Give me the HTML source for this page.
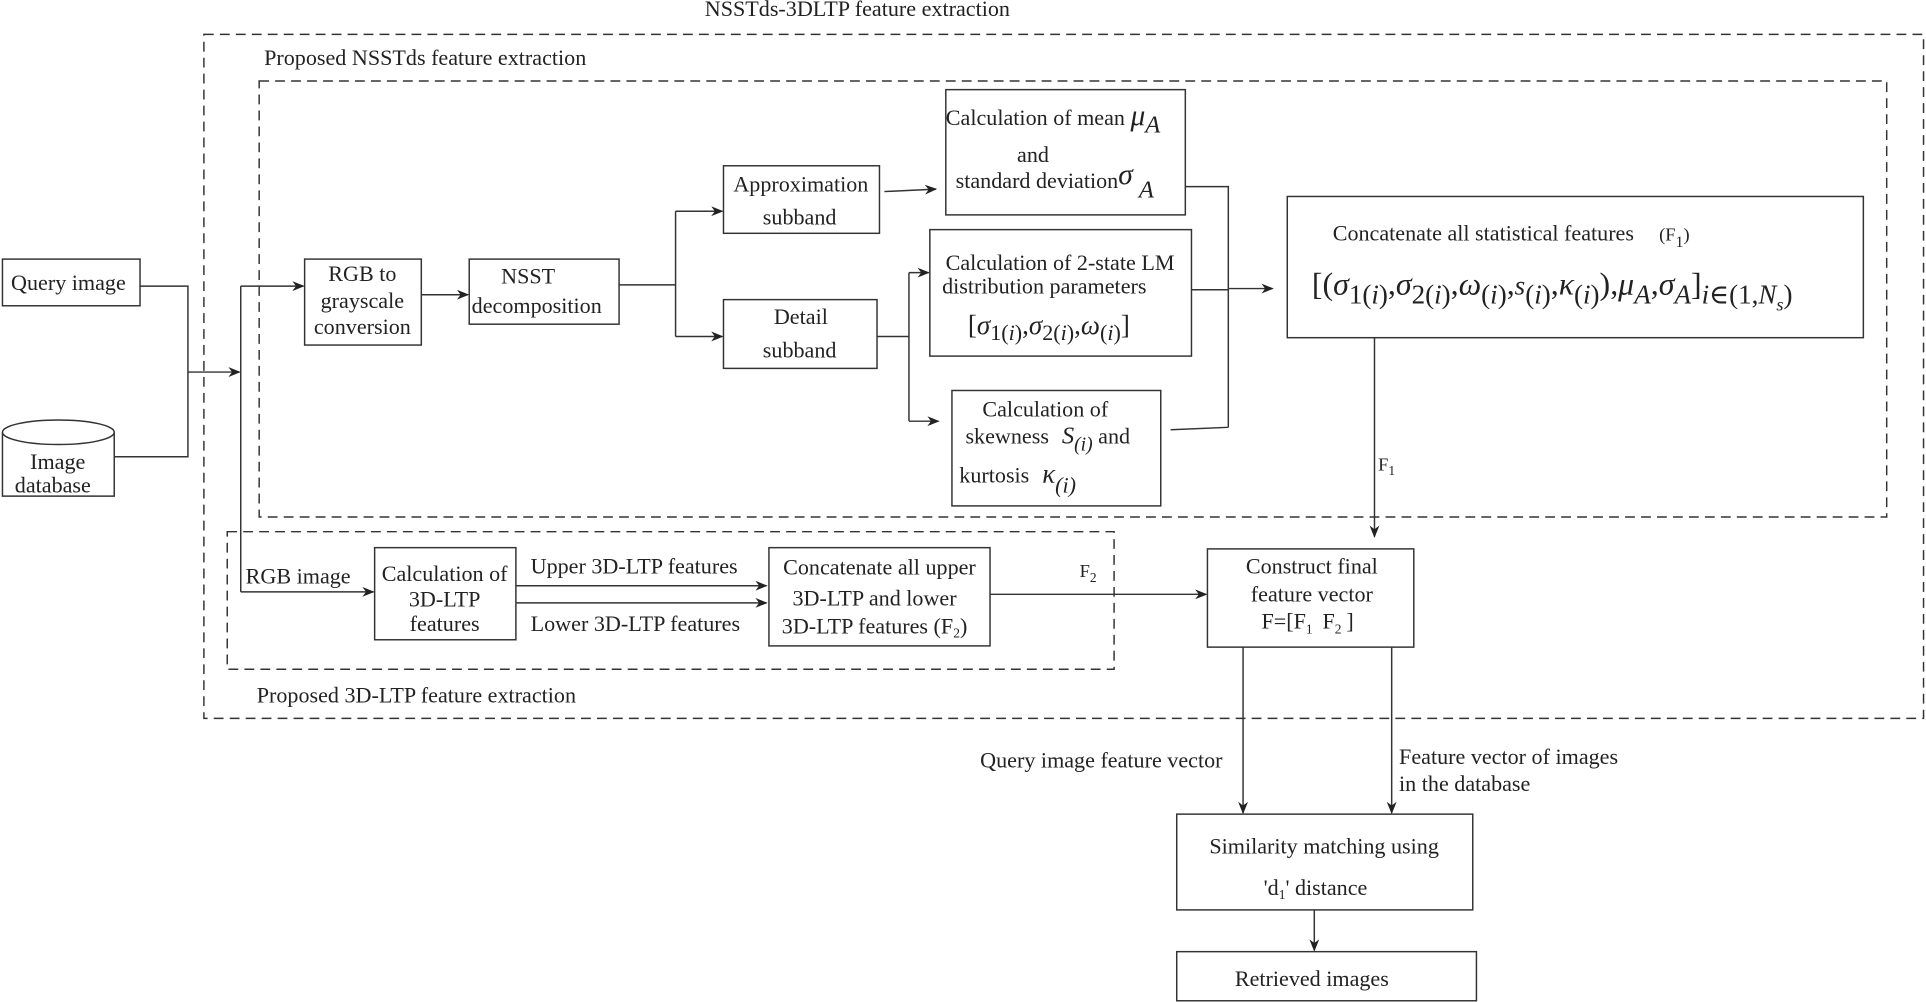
<!DOCTYPE html>
<html><head><meta charset="utf-8"><style>
html,body{margin:0;padding:0;background:#fff}
svg{display:block;font-family:"Liberation Serif","DejaVu Serif",serif;font-size:18px}
text{fill:#222}
.m{font-style:italic}
</style></head><body>
<svg width="1926" height="1002" viewBox="0 0 1568 816" preserveAspectRatio="none" xmlns="http://www.w3.org/2000/svg">
<defs><marker id="a" markerWidth="10" markerHeight="8" refX="9" refY="4" orient="auto" markerUnits="userSpaceOnUse"><path d="M0,0 L10,4 L0,8 L3,4 z" fill="#222"/></marker></defs>
<g fill="none" stroke="#333" stroke-width="1.2">
<rect x="166" y="28" width="1400" height="557" stroke-dasharray="8,5"/>
<rect x="211" y="66" width="1325" height="355" stroke-dasharray="8,5"/>
<rect x="185" y="433" width="722" height="112" stroke-dasharray="8,5"/>
<rect x="2" y="211" width="112" height="38"/>
<path d="M2,352 L2,404 L93,404 L93,352"/>
<ellipse cx="47.5" cy="352" rx="45.5" ry="10" fill="#fff"/>
<rect x="248" y="211" width="95" height="70"/>
<rect x="382" y="211" width="122" height="53"/>
<rect x="589" y="135" width="127" height="55"/>
<rect x="589" y="244" width="125" height="56"/>
<rect x="770" y="73" width="195" height="102"/>
<rect x="757" y="187" width="213" height="103"/>
<rect x="775" y="318" width="170" height="94"/>
<rect x="1048" y="160" width="469" height="115"/>
<rect x="305" y="446" width="115" height="75"/>
<rect x="626" y="446" width="180" height="80"/>
<rect x="983" y="447" width="168" height="80"/>
<rect x="958" y="663" width="241" height="78"/>
<rect x="958" y="775" width="244" height="40"/>
<path d="M114,233 H153 V372 H93"/>
<path d="M153,303 H195" marker-end="url(#a)"/>
<path d="M196,233 V482"/>
<path d="M196,233 H247" marker-end="url(#a)"/>
<path d="M196,482 H304" marker-end="url(#a)"/>
<path d="M343,240 H381" marker-end="url(#a)"/>
<path d="M504,232 H550 M550,172 V274"/>
<path d="M550,172 H588" marker-end="url(#a)"/>
<path d="M550,274 H588" marker-end="url(#a)"/>
<path d="M720,156 L762,154" marker-end="url(#a)"/>
<path d="M965,152 H1000 V348 M970,236 H1000 M953,350 L1000,348"/>
<path d="M1000,235 H1036" marker-end="url(#a)"/>
<path d="M714,274 H740 M740,222 V343"/>
<path d="M740,222 H756" marker-end="url(#a)"/>
<path d="M740,343 H764" marker-end="url(#a)"/>
<path d="M1119,275 V437" marker-end="url(#a)"/>
<path d="M420,477 H624" marker-end="url(#a)"/>
<path d="M420,491 H624" marker-end="url(#a)"/>
<path d="M806,484 H982" marker-end="url(#a)"/>
<path d="M1012,527 V662" marker-end="url(#a)"/>
<path d="M1133,527 V662" marker-end="url(#a)"/>
<path d="M1070,741 V774" marker-end="url(#a)"/>
</g>
<text x="698" y="13" text-anchor="middle">NSSTds-3DLTP feature extraction</text>
<text x="215" y="53">Proposed NSSTds feature extraction</text>
<text x="209" y="572">Proposed 3D-LTP feature extraction</text>
<text x="9" y="236">Query image</text>
<text x="47" y="382" text-anchor="middle">Image</text>
<text x="43" y="401" text-anchor="middle">database</text>
<text x="295" y="229" text-anchor="middle">RGB to</text>
<text x="295" y="251" text-anchor="middle">grayscale</text>
<text x="295" y="272" text-anchor="middle">conversion</text>
<text x="408" y="231">NSST</text>
<text x="384" y="255">decomposition</text>
<text x="652" y="156" text-anchor="middle">Approximation</text>
<text x="651" y="183" text-anchor="middle">subband</text>
<text x="652" y="264" text-anchor="middle">Detail</text>
<text x="651" y="291" text-anchor="middle">subband</text>
<text x="770" y="102">Calculation of mean <tspan class="m" font-size="24">μ</tspan><tspan class="m" font-size="20" dy="6">A</tspan></text>
<text x="841" y="132" text-anchor="middle">and</text>
<text x="778" y="153">standard deviation<tspan class="m" font-size="24" dy="-3">σ</tspan><tspan class="m" font-size="20" dy="11"> A</tspan></text>
<text x="863" y="220" text-anchor="middle">Calculation of 2-state LM</text>
<text x="767" y="239">distribution parameters</text>
<text x="788" y="272" font-size="22">[<tspan class="m">σ</tspan><tspan font-size="18" dy="5">1(<tspan class="m">i</tspan>)</tspan><tspan dy="-5">,</tspan><tspan class="m">σ</tspan><tspan font-size="18" dy="5">2(<tspan class="m">i</tspan>)</tspan><tspan dy="-5">,</tspan><tspan class="m">ω</tspan><tspan font-size="18" dy="5">(<tspan class="m">i</tspan>)</tspan><tspan dy="-5">]</tspan></text>
<text x="851" y="339" text-anchor="middle">Calculation of</text>
<text x="786" y="361">skewness <tspan class="m" font-size="20" dx="6">S</tspan><tspan class="m" font-size="16" dy="6">(i)</tspan><tspan dy="-6"> and</tspan></text>
<text x="781" y="393">kurtosis <tspan class="m" font-size="22" dx="6">κ</tspan><tspan class="m" font-size="18" dy="8">(i)</tspan></text>
<text x="1085" y="196">Concatenate all statistical features <tspan dx="16" font-size="15">(F</tspan><tspan font-size="13" dy="5">1</tspan><tspan font-size="15" dy="-5">)</tspan></text>
<text x="1068" y="240" font-size="26">[(<tspan class="m">σ</tspan><tspan font-size="22" dy="7">1(<tspan class="m">i</tspan>)</tspan><tspan dy="-7">,</tspan><tspan class="m">σ</tspan><tspan font-size="22" dy="7">2(<tspan class="m">i</tspan>)</tspan><tspan dy="-7">,</tspan><tspan class="m">ω</tspan><tspan font-size="22" dy="7">(<tspan class="m">i</tspan>)</tspan><tspan dy="-7">,</tspan><tspan class="m" font-size="22">s</tspan><tspan font-size="22" dy="7">(<tspan class="m">i</tspan>)</tspan><tspan dy="-7">,</tspan><tspan class="m">κ</tspan><tspan font-size="22" dy="7">(<tspan class="m">i</tspan>)</tspan><tspan dy="-7">),</tspan><tspan class="m">μ</tspan><tspan class="m" font-size="22" dy="7">A</tspan><tspan dy="-7">,</tspan><tspan class="m">σ</tspan><tspan class="m" font-size="22" dy="7">A</tspan><tspan dy="-7">]</tspan><tspan font-size="22" dy="7"><tspan class="m">i</tspan>∈(1,<tspan class="m">N</tspan></tspan><tspan font-size="15" dy="6" class="m">s</tspan><tspan font-size="22" dy="-6">)</tspan></text>
<text x="1122" y="383" font-size="15">F<tspan font-size="11" dy="4">1</tspan></text>
<text x="200" y="475">RGB image</text>
<text x="362" y="473" text-anchor="middle">Calculation of</text>
<text x="362" y="494" text-anchor="middle">3D-LTP</text>
<text x="362" y="514" text-anchor="middle">features</text>
<text x="432" y="467">Upper 3D-LTP features</text>
<text x="432" y="514">Lower 3D-LTP features</text>
<text x="716" y="468" text-anchor="middle">Concatenate all upper</text>
<text x="712" y="493" text-anchor="middle">3D-LTP and lower</text>
<text x="712" y="516" text-anchor="middle">3D-LTP features (F<tspan font-size="11" dy="3">2</tspan><tspan dy="-3">)</tspan></text>
<text x="879" y="470" font-size="15">F<tspan font-size="11" dy="4">2</tspan></text>
<text x="1068" y="467" text-anchor="middle">Construct final</text>
<text x="1068" y="490" text-anchor="middle">feature vector</text>
<text x="1027" y="512">F=[F<tspan font-size="11" dy="4">1</tspan><tspan dy="-4" dx="8">F</tspan><tspan font-size="11" dy="4">2</tspan><tspan dy="-4" dx="4">]</tspan></text>
<text x="798" y="625">Query image feature vector</text>
<text x="1139" y="622">Feature vector of images</text>
<text x="1139" y="644">in the database</text>
<text x="1078" y="695" text-anchor="middle">Similarity matching using</text>
<text x="1071" y="729" text-anchor="middle">'d<tspan font-size="11" dy="3">1</tspan><tspan dy="-3">' distance</tspan></text>
<text x="1068" y="803" text-anchor="middle">Retrieved images</text>
</svg>
</body></html>
